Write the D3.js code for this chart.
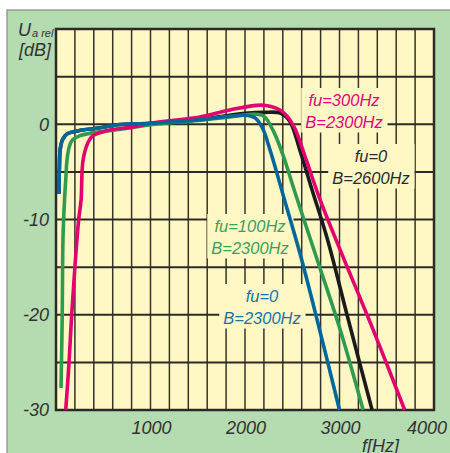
<!DOCTYPE html>
<html><head><meta charset="utf-8">
<script src="https://cdn.jsdelivr.net/npm/d3@7"></script>
<style>
html,body{margin:0;padding:0;background:#fff;}
svg{display:block;}
text{font-family:"Liberation Sans",Arial,sans-serif;font-style:italic;}
</style></head>
<body>
<svg id="c" width="450" height="453"></svg>
<script>
// ---- data ----
const xTicks = [1000, 2000, 3000, 4000];
const yTicks = [0, -10, -20, -30];
const xGrid = d3.range(0, 4001, 200);
const yGrid = d3.range(-30, 10.1, 5);

const blueF  = [32, 36, 45, 70, 120, 250, 450, 650, 1000, 1500, 1850, 2000, 2100, 2180, 2265, 2420, 2580, 2770, 3000];
const blueDb = [-7.3, -4.5, -2.6, -1.6, -1.0, -0.65, -0.4, -0.05, 0.1, 0.45, 0.85, 0.95, 0.7, -0.3, -2.7, -8, -13.5, -20.8, -30];

const blackF  = [32, 36, 45, 70, 120, 250, 450, 650, 1000, 1500, 1800, 2000, 2200, 2380, 2475, 2580, 2710, 2870, 3090, 3345];
const blackDb = [-7.3, -4.5, -2.6, -1.6, -1.0, -0.65, -0.4, -0.05, 0.1, 0.45, 0.9, 1.15, 1.25, 1.15, 0.3, -2.7, -6.9, -12, -20.4, -30];

const greenF  = [53, 66, 74, 90, 105, 116, 140, 170, 254, 465, 783, 1000, 1500, 1900, 2100, 2200, 2300, 2400, 2550, 2750, 3005, 3250];
const greenDb = [-27.7, -20, -12, -8, -5.5, -3.8, -2.4, -1.7, -1.2, -0.8, -0.4, -0.05, 0.4, 0.85, 1.05, 0.85, -0.7, -3.2, -7.8, -13.8, -21.5, -30];

const pinkF  = [103, 138, 166, 200, 240, 265, 286, 340, 390, 570, 800, 1000, 1524, 1840, 2190, 2370, 2450, 2530, 2650, 2790, 3020, 3345, 3690];
const pinkDb = [-30, -25, -20, -15, -10, -8, -3.8, -1.9, -1.2, -0.6, -0.3, 0.1, 0.77, 1.5, 2.0, 1.5, 0.8, -0.5, -3.8, -7.8, -13.5, -21.3, -30];

const seriesNames = ["black", "green", "pink", "blue"];
const labelLines = {
  pink: ["fu=300Hz", "B=2300Hz"],
  black: ["fu=0", "B=2600Hz"],
  green: ["fu=100Hz", "B=2300Hz"],
  blue: ["fu=0", "B=2300Hz"]
};

// ---- styles / layout ----
const labelPos = { pink: [344, 106], black: [371, 162], green: [250, 232], blue: [262, 302] };
const lineColor = { pink: "#e4006f", black: "#1b1b1b", green: "#2f9a50", blue: "#00679a" };
const textColor = { pink: "#e5007d", black: "#2a2a2a", green: "#3aa05a", blue: "#1a72a6" };

const svg = d3.select("#c");
const M = { l: 56, t: 29, r: 434, b: 410 };
const x = d3.scaleLinear().domain([0, 4000]).range([M.l, M.r]);
const y = d3.scaleLinear().domain([-30, 10]).range([M.b, M.t]);

// green panel
svg.append("rect").attr("x", 7).attr("y", 10).attr("width", 460).attr("height", 460)
  .attr("fill", "#b5dbb0").attr("stroke", "#8a8a8a").attr("stroke-width", 1.2);
// plot area
svg.append("rect").attr("x", M.l).attr("y", M.t).attr("width", M.r - M.l).attr("height", M.b - M.t)
  .attr("fill", "#fff8c4");

const grid = svg.append("g");
grid.selectAll("line.v").data(xGrid).join("line")
  .attr("x1", d => x(d)).attr("x2", d => x(d)).attr("y1", M.t).attr("y2", M.b)
  .attr("stroke", "#35332a").attr("stroke-width", 1.5);
grid.selectAll("line.h").data(yGrid).join("line")
  .attr("x1", M.l).attr("x2", M.r).attr("y1", d => y(d)).attr("y2", d => y(d))
  .attr("stroke", "#2d2b25").attr("stroke-width", 2);

// label boxes
const labelG = svg.append("g");
seriesNames.forEach(n => {
  const g = labelG.append("g");
  const [cx, by] = labelPos[n];
  const t = g.append("text").attr("text-anchor", "middle").attr("font-size", 16.5)
    .attr("fill", textColor[n]);
  labelLines[n].forEach((s, i) => t.append("tspan").attr("x", cx).attr("y", by + i * 21.5).text(s));
  const bb = t.node().getBBox();
  g.insert("rect", "text").attr("x", bb.x - 4).attr("y", bb.y - 3)
    .attr("width", bb.width + 8).attr("height", bb.height + 5).attr("fill", "#fff8c4");
});

// border
svg.append("rect").attr("x", M.l).attr("y", M.t).attr("width", M.r - M.l).attr("height", M.b - M.t)
  .attr("fill", "none").attr("stroke", "#2d2b25").attr("stroke-width", 2.5);

// curves
const data = {
  black: d3.zip(blackF, blackDb), green: d3.zip(greenF, greenDb),
  pink: d3.zip(pinkF, pinkDb), blue: d3.zip(blueF, blueDb)
};
const line = d3.line().x(d => x(d[0])).y(d => y(d[1])).curve(d3.curveCatmullRom.alpha(0.5));
const cg = svg.append("g");
seriesNames.forEach(n => {
  cg.append("path").attr("d", line(data[n])).attr("fill", "none")
    .attr("stroke", lineColor[n]).attr("stroke-width", 3.6).attr("stroke-linejoin", "round");
});

// y tick labels
svg.append("g").selectAll("text").data(yTicks).join("text")
  .attr("x", 49).attr("y", d => y(d)).attr("dy", "0.36em").attr("text-anchor", "end")
  .attr("font-size", 18).attr("fill", "#333").text(d => d === 0 ? "0" : "-" + Math.abs(d));
// x tick labels
svg.append("g").selectAll("text").data(xTicks).join("text")
  .attr("x", d => x(d) + (d === 4000 ? -7 : 1)).attr("y", 434).attr("text-anchor", "middle")
  .attr("font-size", 18).attr("fill", "#333").text(d => d);
svg.append("text").attr("x", 362).attr("y", 452).attr("font-size", 18).attr("fill", "#333").text("f[Hz]");

// y title
const yt = svg.append("text").attr("x", 18).attr("y", 36).attr("fill", "#333");
yt.append("tspan").attr("font-size", 18).text("U");
yt.append("tspan").attr("font-size", 11).attr("dx", 1).attr("dy", 1).text("a rel");
svg.append("text").attr("x", 19).attr("y", 56).attr("font-size", 18).attr("fill", "#333").text("[dB]");
</script>
</body></html>
